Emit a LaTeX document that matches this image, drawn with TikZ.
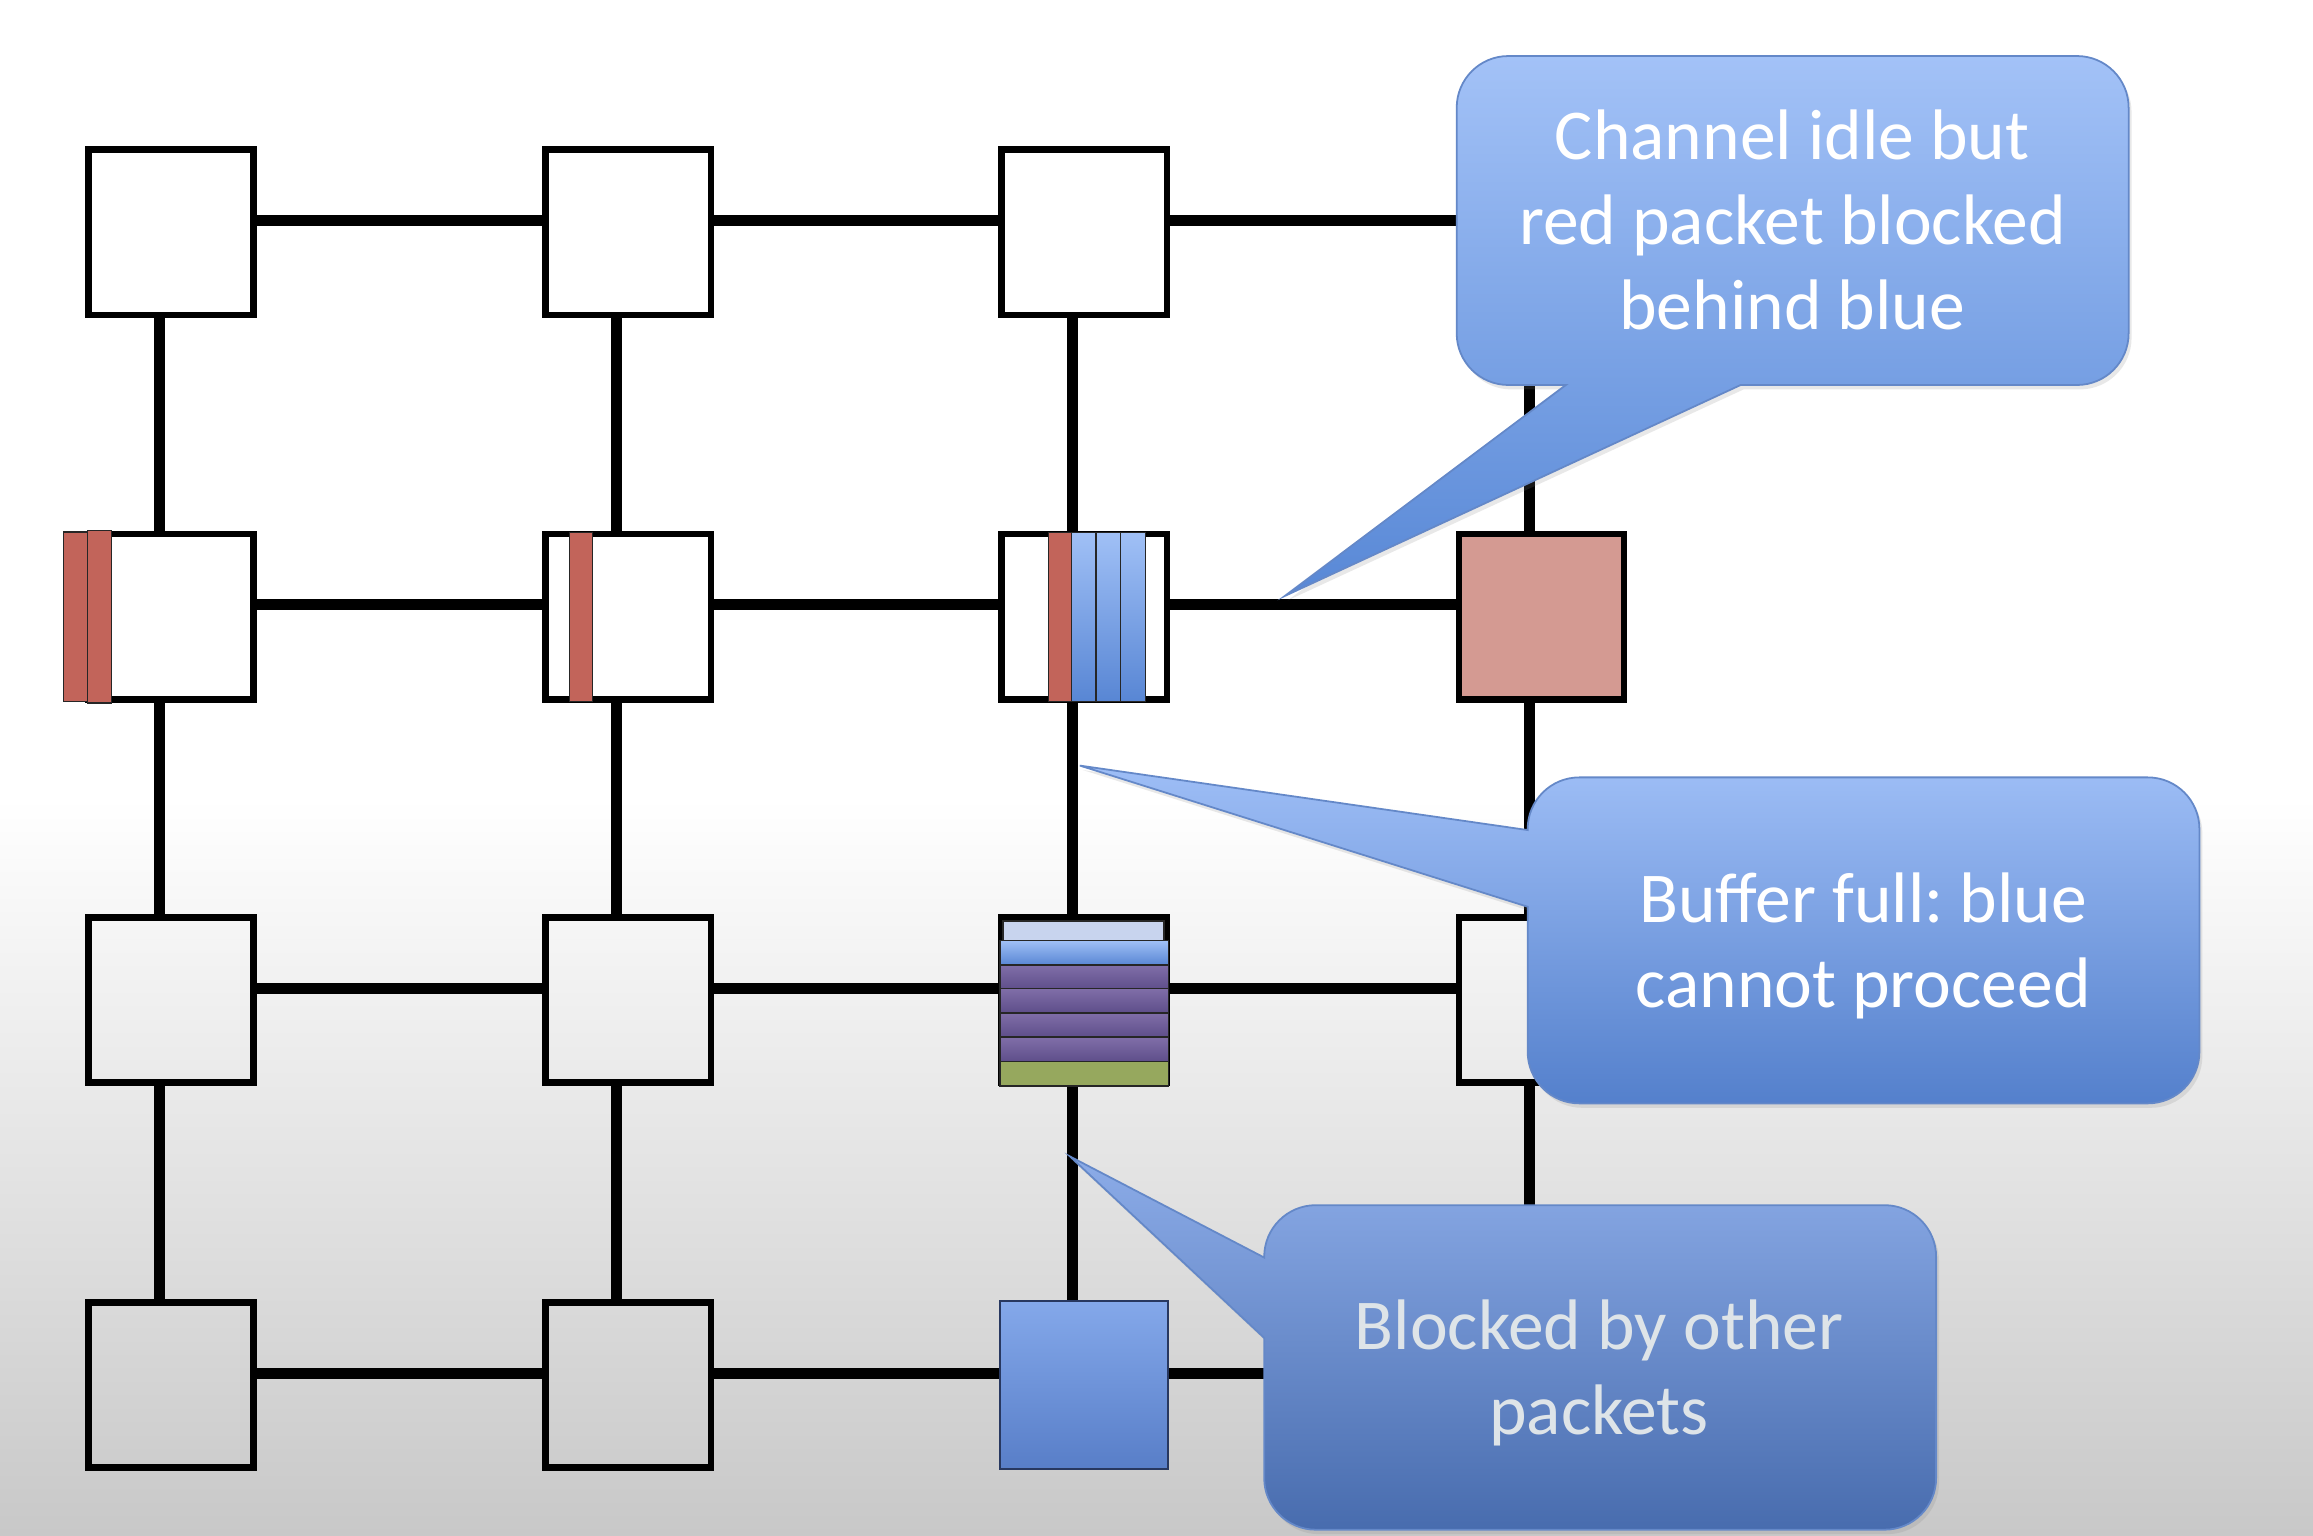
\documentclass[tikz,border=0pt]{standalone}
\usepackage{fontspec}
\setmainfont{Carlito}
\frenchspacing
\usetikzlibrary{shadows}
\definecolor{pktred}{RGB}{194,100,90}
\definecolor{pktpink}{RGB}{212,154,146}
\definecolor{pktlight}{RGB}{200,212,238}
\definecolor{pktbluetop}{RGB}{160,192,246}
\definecolor{pktbluebot}{RGB}{88,134,212}
\definecolor{pktpurptop}{RGB}{128,110,168}
\definecolor{pktpurpbot}{RGB}{94,78,138}
\definecolor{pktgreen}{RGB}{150,168,94}
\definecolor{bggray}{RGB}{200,200,200}
\definecolor{bubbleline}{RGB}{100,136,200}
\definecolor{bubblegray}{RGB}{222,228,232}
\definecolor{navyline}{RGB}{40,56,96}

\begin{document}
\begin{tikzpicture}[x=1pt, y=1pt,
  router/.style={draw, line width=4.5pt, minimum size=112pt, inner sep=0pt},
  busy24/.style={fill=pktpink},
  busy43/.style={draw=navyline, line width=1.5pt, minimum size=114pt,
    top color={rgb,255:red,132;green,168;blue,234}, bottom color={rgb,255:red,88;green,126;blue,200}},
  link/.style={line width=7.5pt},
  flit/.style={draw=black!85, line width=1pt},
  redflit/.style={flit, fill=pktred},
  blueflit/.style={flit, top color=pktbluetop, bottom color=pktbluebot},
  purpleflit/.style={flit, top color=pktpurptop, bottom color=pktpurpbot},
  bubble/.style={draw=bubbleline, line width=1.2pt,
    drop shadow={opacity=0.18, shadow xshift=2pt, shadow yshift=-3pt}},
  bubbletext/.style={text=white, font=\fontsize{48.5pt}{57.6pt}\selectfont, align=center, inner sep=0pt}]

  % Background
  \useasboundingbox (0,0) rectangle (1568,1041);
  \fill[white] (0,0) rectangle (1568,1041);
  \shade[top color=white, bottom color=bggray] (0,0) rectangle (1568,500);

  % Routers
  \foreach \i/\y in {1/883.5, 2/623, 3/363, 4/102} {
    \foreach \j/\x in {1/116, 2/426, 3/735, 4/1045} {
      \node[router, busy\i\j/.try] (r\i\j) at (\x,\y) {};
    }
  }

  % Links
  \foreach \i in {1,...,4} {
    \foreach \j/\k in {1/2, 2/3, 3/4} {
      \draw[link] ([yshift=8pt]r\i\j.east) -- ([yshift=8pt]r\i\k.west);
      \draw[link] ([xshift=-8pt]r\j\i.south) -- ([xshift=-8pt]r\k\i.north);
    }
  }

  % Red packet
  \draw[redflit] (43,565.5) rectangle (59.4,680.5);
  \draw[redflit] (59.4,564.5) rectangle (75.6,681.5);
  \draw[redflit] (386,565.5) rectangle (401.5,680);
  \draw[redflit] (710.6,565.5) rectangle (726.3,680);

  % Blue packet
  \foreach \x in {726.3, 743, 759.7} {
    \draw[blueflit] (\x,565.5) rectangle ++(16.7,114.5);
  }

  % Full buffer
  \draw[flit, fill=pktlight] (680,403.4) rectangle (789,416.7);
  \draw[blueflit] (678,386.8) rectangle (792,403.4);
  \foreach \y in {370.2, 354.4, 337.9, 321.3} {
    \draw[purpleflit] (678,\y) rectangle ++(114,16.5);
  }
  \draw[flit, fill=pktgreen] (678,304.7) rectangle (792,321.3);

  % Callouts
  \shadedraw[bubble, top color={rgb,255:red,163;green,194;blue,247}, bottom color={rgb,255:red,88;green,136;blue,214}]
    (1022.5,1003) -- (1408,1003) arc[start angle=90, end angle=0, radius=35]
    -- (1443,815) arc[start angle=0, end angle=-90, radius=35]
    -- (1180,780) -- (871,637) -- (1061.5,780)
    -- (1022.5,780) arc[start angle=270, end angle=180, radius=35]
    -- (987.5,968) arc[start angle=180, end angle=90, radius=35] -- cycle;
  \node[bubbletext] (idle) at (1215,892) {Channel idle but\\red packet blocked\\behind blue};

  \shadedraw[bubble, top color={rgb,255:red,158;green,190;blue,246}, bottom color={rgb,255:red,84;green,128;blue,204}]
    (1070.6,514) -- (1456,514) arc[start angle=90, end angle=0, radius=35]
    -- (1491,328) arc[start angle=0, end angle=-90, radius=35]
    -- (1070.6,293) arc[start angle=270, end angle=180, radius=35]
    -- (1035.6,426.3) -- (732,522) -- (1035.6,478.3)
    -- (1035.6,479) arc[start angle=180, end angle=90, radius=35] -- cycle;
  \node[bubbletext] (full) at (1263,399.6) {Buffer full: blue\\cannot proceed};

  \shadedraw[bubble, top color={rgb,255:red,140;green,172;blue,232}, bottom color={rgb,255:red,72;green,108;blue,174}]
    (892,224) -- (1277.5,224) arc[start angle=90, end angle=0, radius=35]
    -- (1312.5,39) arc[start angle=0, end angle=-90, radius=35]
    -- (892,4) arc[start angle=270, end angle=180, radius=35]
    -- (857,134) -- (725.4,257) -- (857,188.5)
    -- (857,189) arc[start angle=180, end angle=90, radius=35] -- cycle;
  \node[bubbletext, text=bubblegray] (other) at (1084,110.5) {Blocked by other\\packets};
\end{tikzpicture}
\end{document}
